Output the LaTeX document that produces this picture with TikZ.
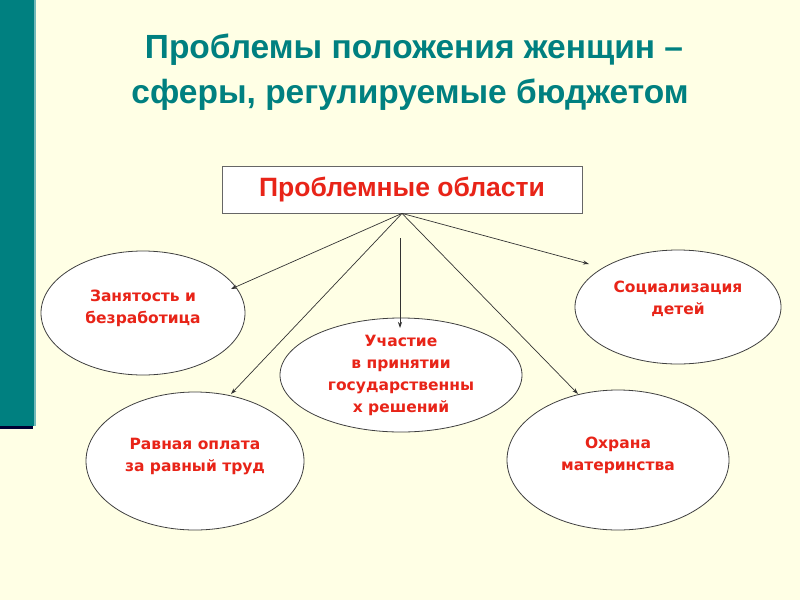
\documentclass[tikz,border=0pt]{standalone}
\usepackage{fontspec}
\setmainfont{Liberation Sans}
\newfontfamily\titlefont{Liberation Sans}
\newfontfamily\ovalfont{DejaVu Sans}
\usetikzlibrary{shapes.geometric,arrows.meta}
\definecolor{slidebg}{RGB}{255,255,229}
\definecolor{tealbar}{RGB}{0,128,128}
\definecolor{areared}{RGB}{232,36,24}
\tikzset{
  oval/.style={ellipse, draw=black!75, fill=white, line width=0.8pt, inner sep=0pt,
    align=center, text=areared, font=\ovalfont\bfseries\fontsize{15.5}{22}\selectfont},
  link/.style={draw=black!80, line width=0.7pt, -{Stealth[length=6pt,width=4pt]}},
  heading/.style={anchor=base, text=tealbar, font=\titlefont\bfseries\fontsize{33.5}{33.5}\selectfont},
}

\begin{document}
\begin{tikzpicture}[x=1pt,y=-1pt]
  \useasboundingbox (0,0) rectangle (800,600);
  \fill[slidebg] (0,0) rectangle (800,600);
  % teal strip on the left
  \fill[black!80!blue] (0,425) rectangle (33,429);
  \fill[tealbar] (0,0) rectangle (34,426);
  \fill[tealbar!55!white] (34,0) rectangle (35.5,426);

  \node[heading] (title1) at (414,58)  {Проблемы положения женщин –};
  \node[heading] (title2) at (410,103) {сферы, регулируемые бюджетом};

  \node[draw=black!60, fill=white, line width=0.8pt, minimum width=360pt, minimum height=47pt,
        text=areared, font=\bfseries\fontsize{26.5}{26.5}\selectfont] (areas) at (402,189.5) {Проблемные области};

  \node[oval, minimum width=204pt, minimum height=124pt, text depth=13pt] (employ) at (143,313) {Занятость и\\безработица};
  \node[oval, minimum width=242pt, minimum height=114pt] (decide) at (401,375) {Участие\\в принятии\\государственны\\х решений};
  \node[oval, minimum width=206pt, minimum height=114pt, text depth=18pt] (social) at (678,307) {Социализация\\детей};
  \node[oval, minimum width=218pt, minimum height=138pt, text depth=12pt] (equal)  at (195,461) {Равная оплата\\за равный труд};
  \node[oval, minimum width=222pt, minimum height=140pt, text depth=13pt] (mother) at (618,460) {Охрана\\материнства};

  \coordinate (hub)       at (areas.south);
  \coordinate (employTip) at (231,289);
  \coordinate (socialTip) at (589,264);
  \coordinate (decideTop) at (400,238);
  \coordinate (decideTip) at (400,328);
  \coordinate (equalTip)  at (231,394);
  \coordinate (motherTip) at (578,394);

  \draw[link] (hub) -- (employTip);
  \draw[link] (hub) -- (socialTip);
  \draw[link] (decideTop) -- (decideTip);
  \draw[link] (hub) -- (equalTip);
  \draw[link] (hub) -- (motherTip);
\end{tikzpicture}
\end{document}
